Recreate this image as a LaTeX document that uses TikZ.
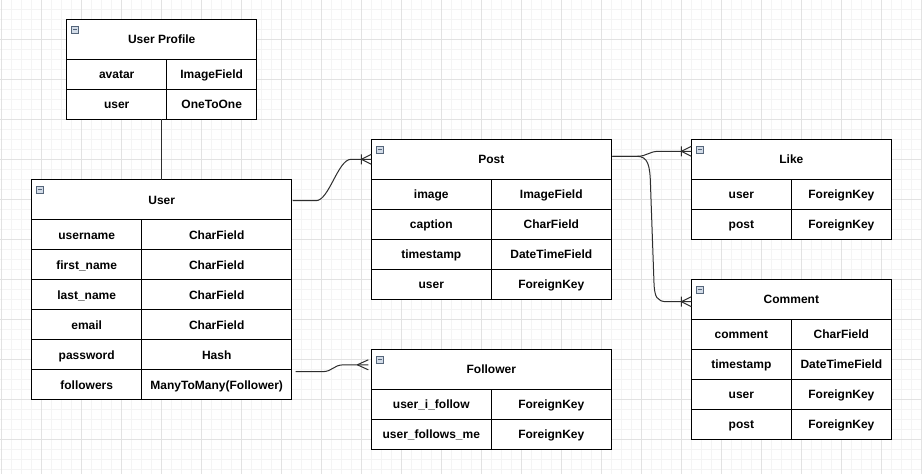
\documentclass[tikz,border=0pt]{standalone}
\usepackage{fontspec}
\setmainfont{Liberation Sans}
\usetikzlibrary{calc}
\definecolor{gridmajor}{HTML}{E2E2E2}
\definecolor{gridminor}{HTML}{F4F4F4}
\definecolor{iconfill}{HTML}{D3DCE8}
\definecolor{iconline}{HTML}{55657A}
\definecolor{connc}{HTML}{2E2E2E}
\tikzset{
  every node/.style={font=\bfseries\fontsize{12}{14}\selectfont},
  hdr/.style={draw=black, fill=white, line width=1pt, inner sep=0pt, outer sep=0pt, text height=9pt, text depth=0pt, minimum height=40pt, anchor=north west},
  cell/.style={draw=black, fill=white, line width=1pt, inner sep=0pt, outer sep=0pt, text height=8.8pt, text depth=0pt, minimum height=30pt, anchor=north west},
  conn/.style={draw=connc, line width=1pt},
  pics/manyend/.style={code={\draw[conn] (-11,0) -- (0,-5) (-11,0) -- (0,5);}},
  pics/onemanyend/.style={code={\draw[conn] (-10,0) -- (0,-5) (-10,0) -- (0,5) (-10,-5) -- (-10,5);}},
}
\newcommand{\ertable}[7]{%
  \node[hdr, minimum width={(#4+#5)*1pt}] (#1) at (#2,#3) {#6};
  \draw[iconline, fill=iconfill, line width=0.6pt] ($(#1.north west)+(5,6.5)$) rectangle ++(7,7);
  \draw[iconline, line width=0.9pt] ($(#1.north west)+(6.5,10)$) -- ++(4,0);
  \foreach \a/\b [count=\i] in {#7} {
    \node[cell, minimum width=#4pt] (#1-a\i) at ($(#1.south west)+(0,{(\i-1)*30})$) {\a};
    \node[cell, minimum width=#5pt] (#1-b\i) at (#1-a\i.north east) {\b};
  }%
}
\begin{document}
\begin{tikzpicture}[x=1pt, y=-1pt]
\useasboundingbox (0,0) rectangle (922,474);
\fill[white] (0,0) rectangle (922,474);
% grid
\foreach \x in {1,11,...,921} \draw[gridminor, line width=0.8pt] (\x,0) -- (\x,474);
\foreach \y in {9.5,19.5,...,474} \draw[gridminor, line width=0.8pt] (0,\y) -- (922,\y);
\foreach \x in {1,41,...,921} \draw[gridmajor, line width=1pt] (\x,0) -- (\x,474);
\foreach \y in {39.5,79.5,...,474} \draw[gridmajor, line width=1pt] (0,\y) -- (922,\y);
% tables
\ertable{up}{66.7}{19.3}{100}{90}{User Profile}{avatar/ImageField, user/OneToOne}
\ertable{user}{31.7}{179.7}{110}{150}{User}{username/CharField, first\_name/CharField, last\_name/CharField, email/CharField, password/Hash, followers/ManyToMany(Follower)}
\ertable{post}{371.3}{139.3}{120}{120}{Post}{image/ImageField, caption/CharField, timestamp/DateTimeField, user/ForeignKey}
\ertable{like}{691.4}{139.3}{100}{100}{Like}{user/ForeignKey, post/ForeignKey}
\ertable{comment}{691.4}{279.3}{100}{100}{Comment}{comment/CharField, timestamp/DateTimeField, user/ForeignKey, post/ForeignKey}
\ertable{follower}{371.3}{349.3}{120}{120}{Follower}{user\_i\_follow/ForeignKey, user\_follows\_me/ForeignKey}
% connectors
\draw[conn] (up.south |- up-b2.south) -- (user.north);
\coordinate (uOut) at ($(user.east)+(1,1)$);
\coordinate (pIn) at (post.west);
\draw[conn] (uOut) -- (316,200.7) .. controls (329,200.7) and (338,159.3) .. (351,159.3) -- (pIn);
\pic at (pIn) {onemanyend};
\coordinate (pOut) at ($(post.east)+(1,-3)$);
\coordinate (lIn) at ($(like.west)+(0,-8)$);
\draw[conn] (pOut) -- (636.7,156.3) .. controls (648,156.3) and (648,151.3) .. (659.5,151.3) -- (lIn);
\pic at (lIn) {onemanyend};
\coordinate (cIn) at ($(comment.west)+(0,2.4)$);
\draw[conn] (pOut) -- (636.7,156.3) .. controls (648,156.3) and (650,165) .. (650.5,185) -- (654,283) .. controls (654.5,297) and (657,301.7) .. (667,301.7) -- (cIn);
\pic at (cIn) {onemanyend};
\coordinate (fOut) at ($(user-b6.east)+(4,-13)$);
\coordinate (fIn) at ($(follower.west)+(-3,-4.5)$);
\draw[conn] (fOut) -- (322,371.7) .. controls (333,371.7) and (333,364.8) .. (344,364.8) -- (fIn);
\pic at (fIn) {manyend};
\end{tikzpicture}
\end{document}
